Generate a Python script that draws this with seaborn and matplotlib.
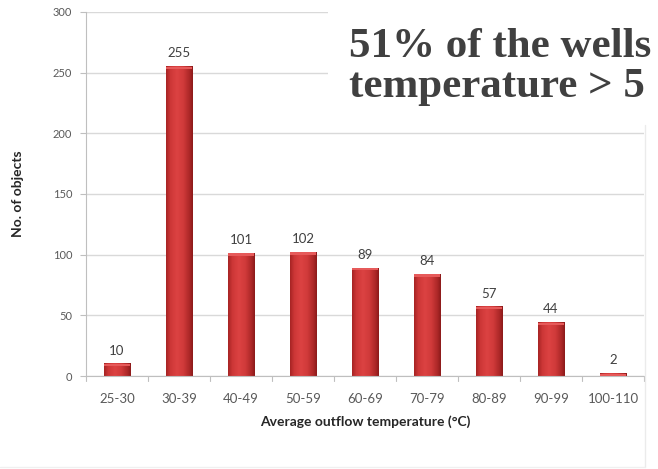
import numpy as np
import pandas as pd
import seaborn as sns
import matplotlib
matplotlib.use("Agg")
import matplotlib.pyplot as plt
from matplotlib.patches import Rectangle
from matplotlib.colors import LinearSegmentedColormap
from matplotlib.lines import Line2D

# Well counts per average outflow temperature class
categories = ["25-30", "30-39", "40-49", "50-59", "60-69", "70-79", "80-89", "90-99", "100-110"]
counts = [10, 255, 101, 102, 89, 84, 57, 44, 2]
y_ticks = [0, 50, 100, 150, 200, 250, 300]

headline = ["51% of the wells", "temperature > 5"]
x_label = "Average outflow temperature (\u00b0C)"
y_label = "No. of objects"

sns.set_theme(style="white")
plt.rcParams["font.family"] = ["Lato", "DejaVu Sans"]

df = pd.DataFrame({"temp": categories, "count": counts})

fig = plt.figure(figsize=(6.58, 4.69), dpi=100)
ax = fig.add_axes([86 / 658, 1 - 376 / 469, (644 - 86) / 658, (376 - 12) / 469])

sns.barplot(data=df, x="temp", y="count", color="#c83030", width=0.42,
            saturation=1, ax=ax, zorder=2)

# Shade each bar with a horizontal cylinder-like gradient and a lighter top rim
shade = LinearSegmentedColormap.from_list(
    "barshade",
    [(0.0, "#a62424"), (0.15, "#cc3636"), (0.4, "#dc4242"),
     (0.65, "#d03a3a"), (0.88, "#ac2727"), (1.0, "#8c1a1a")])
grad = np.linspace(0, 1, 64).reshape(1, -1)
for p in list(ax.patches):
    x0, y0 = p.get_x(), p.get_y()
    w, h = p.get_width(), p.get_height()
    p.set_facecolor("none")
    p.set_edgecolor("none")
    ax.imshow(grad, cmap=shade, aspect="auto", extent=(x0, x0 + w, y0, y0 + h),
              zorder=2, interpolation="bilinear")
    rim = min(2.0, h)
    ax.add_patch(Rectangle((x0, y0 + h - rim), w, rim, facecolor="#e65a5a",
                           edgecolor="none", zorder=3))
    ax.text(x0 + w / 2, y0 + h + 6, f"{int(round(h))}", ha="center", va="bottom",
            fontsize=9.5, color="#404040", zorder=4)

ax.set_xlim(-0.5, len(categories) - 0.5)
ax.set_ylim(0, 300)
ax.set_yticks(y_ticks)
ax.set_yticklabels([str(v) for v in y_ticks], fontsize=8, color="#595959")
ax.tick_params(axis="x", labelsize=9.5, labelcolor="#595959", length=0, pad=12)
ax.tick_params(axis="y", length=4, width=0.8, color="#bfbfbf", pad=6, left=True)

# Category separators below the baseline
for b in np.arange(-0.5, len(categories), 1.0):
    ax.add_line(Line2D([b, b], [0, -4], color="#bfbfbf", lw=0.8, clip_on=False,
                       transform=ax.transData))

ax.yaxis.grid(True, color="#d9d9d9", lw=1.0)
ax.set_axisbelow(True)
for s in ["top", "right"]:
    ax.spines[s].set_visible(False)
for s in ["left", "bottom"]:
    ax.spines[s].set_color("#bfbfbf")
    ax.spines[s].set_linewidth(0.8)

ax.set_xlabel(x_label, fontsize=10, fontweight="bold", color="#262626", labelpad=8)
ax.set_ylabel("")
fig.text(18 / 658, 1 - 194 / 469, y_label, rotation=90, ha="center", va="center",
         fontsize=10, fontweight="bold", color="#262626")

# Light chart frame
fig.add_artist(Line2D([645 / 658, 645 / 658], [1 - 467 / 469, 1 - 125 / 469],
                      transform=fig.transFigure, color="#ebebeb", lw=1))
fig.add_artist(Line2D([0, 645 / 658], [1 - 467 / 469, 1 - 467 / 469],
                      transform=fig.transFigure, color="#f0f0f0", lw=1))

# Headline on a white panel over the upper right of the chart
fig.add_artist(Rectangle((328 / 658, 1 - 122 / 469), 1, 122 / 469,
                         transform=fig.transFigure, facecolor="white",
                         edgecolor="none", zorder=5))
fig.text(349 / 658, 1 - 57 / 469, headline[0], ha="left", va="baseline",
         fontsize=31, fontweight="bold", family=["Liberation Serif"], color="#404040",
         zorder=6)
fig.text(349 / 658, 1 - 97 / 469, headline[1], ha="left", va="baseline",
         fontsize=31, fontweight="bold", family=["Liberation Serif"], color="#404040",
         zorder=6)

fig.savefig("out.png", dpi=100)
